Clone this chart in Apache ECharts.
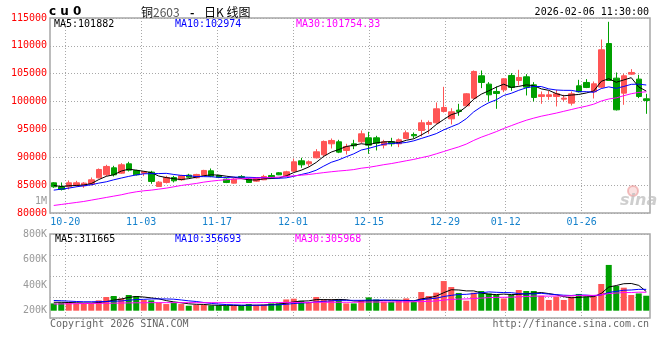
<!DOCTYPE html>
<html><head><meta charset="utf-8">
<script src="https://cdn.jsdelivr.net/npm/echarts@6.0.0/dist/echarts.min.js"></script>
<style>html,body{margin:0;padding:0;background:#fff;}#c{width:660px;height:360px;}</style>
</head><body><div id="c"></div>
<script>
// ---------- data ----------
const dates = ['10-16','10-17','10-20','10-21','10-22','10-23','10-24','10-27','10-28','10-29','10-30','10-31',
 '11-03','11-04','11-05','11-06','11-07','11-10','11-11','11-12','11-13','11-14','11-17','11-18','11-19','11-20','11-21','11-24','11-25','11-26','11-27','11-28',
 '12-01','12-02','12-03','12-04','12-05','12-08','12-09','12-10','12-11','12-12','12-15','12-16','12-17','12-18','12-19','12-22','12-23','12-24','12-25','12-26','12-29','12-30','12-31',
 '01-05','01-06','01-07','01-08','01-09','01-12','01-13','01-14','01-15','01-16','01-19','01-20','01-21','01-22','01-23','01-26','01-27','01-28','01-29','01-30',
 '02-02','02-03','02-04','02-05','02-06'];
const labelDates = ['10-20','11-03','11-17','12-01','12-15','12-29','01-12','01-26'];

const opens = [85420,84703,84703,84942,84882,85181,86318,86856,88113,87155,
 88830,87634,87155,87334,84762,85480,86377,85959,86796,86318,
 86796,87574,86736,86078,85360,86557,86078,85719,85959,86736,
 87215,86676,87514,89369,88830,89907,90446,92420,92779,91224,
 92420,92779,93497,93497,92181,92779,92420,93377,94095,94813,
 95890,96189,98224,96908,98463,99241,100617,104626,103130,101814,
 102113,104686,103788,104446,103010,100916,100916,100916,100438,99720,
 102830,103429,101754,102591,110423,104207,101514,104925,104027,100498];
const closes = [84703,84224,85420,85420,85360,85959,87813,88352,86856,88651,
 87694,86856,87394,85660,85540,86377,85779,86676,86437,86916,
 87634,86617,86377,85480,86078,86377,85480,86198,86557,86318,
 86856,87394,89189,88651,89189,90984,92838,93018,90924,91941,
 92061,94215,92181,92540,92779,92420,93138,94394,93856,96189,
 96249,98702,98942,98164,98224,101395,105404,103429,101215,101455,
 104087,102532,104327,102592,100737,101215,101215,101395,100617,101395,
 101754,102532,103190,109292,103782,98523,104626,105224,100916,100199];
const lows = [84523,84044,84224,84703,84523,84942,86198,86617,86557,87035,
 87454,86736,86617,85241,84703,85301,85480,85779,86318,86198,
 86676,86437,86258,85360,85301,86198,85420,85600,85899,86198,
 86796,86617,87394,88113,88352,89788,90147,91582,90745,90505,
 91463,92540,90625,91224,91582,91941,91822,93257,93377,93736,
 94215,96000,98044,95900,97450,99121,100498,102412,100019,98703,
 101694,101934,102891,101096,100019,99600,100318,99121,100019,99301,
 101634,102412,100558,102400,103700,98400,99420,104805,100617,97805];
const highs = [85540,85480,85839,85779,85540,86377,87993,88651,88472,88950,
 89189,87753,87454,87574,85719,86676,86676,86856,87035,87035,
 87753,87993,86856,86198,86258,86796,86318,86377,86856,87155,
 87334,87574,89788,89907,89429,91463,93018,93377,93138,92420,
 93138,94813,94574,93856,93138,93497,93377,94813,94454,96728,
 96608,99839,102651,98800,99600,101514,105583,105583,103489,102711,
 104207,105104,105703,104925,103489,101814,101934,102113,101215,101814,
 103907,104027,103608,111141,114318,105224,104985,105822,104805,101395];

const ma5 = [84942,84762,84882,84942,85025,85277,85994,86581,86868,87526,
 87873,87682,87490,87251,86629,86365,86150,86006,86162,86437,
 86688,86856,86796,86605,86437,86186,85958,85923,86138,86186,
 86282,86665,87263,87682,88256,89081,90170,90936,91391,91941,
 92156,92432,92264,92588,92755,92827,92612,93054,93317,93999,
 94765,95878,96788,97649,98056,99085,100426,101323,101933,102580,
 103118,102544,102723,102999,102855,102281,102017,101431,101036,101167,
 101275,101539,101898,103633,104110,103464,103883,104289,102614,101882];
const ma10 = [84104,84283,84463,84703,84882,85061,85360,85600,85959,86276,
 86575,86838,87036,87060,87078,87119,86916,86748,86706,86533,
 86527,86503,86401,86383,86437,86437,86407,86359,86371,86312,
 86234,86312,86593,86910,87221,87682,88417,89099,89536,90098,
 90619,91301,91600,91989,92348,92492,92522,92659,92953,93377,
 93796,94245,94921,95483,96028,96925,98152,99055,99791,100318,
 101102,101485,102023,102466,102717,102699,102280,102077,102017,102011,
 101778,101778,101664,102334,102639,102370,102711,103094,103123,102974];
const ma30 = [81352,81531,81711,81890,82070,82310,82549,82788,83027,83267,
 83566,83805,83985,84104,84283,84463,84703,84942,85121,85301,
 85540,85719,85860,85980,86080,86150,86210,86260,86320,86373,
 86445,86551,86677,86784,86912,87079,87247,87402,87538,87648,
 87793,88039,88198,88427,88669,88870,89115,89373,89620,89929,
 90216,90619,91038,91461,91866,92366,93030,93605,94093,94598,
 95172,95677,96181,96646,97031,97372,97651,97931,98254,98569,
 98892,99169,99536,100095,100461,100665,101048,101409,101644,101754];

// volumes in thousands of lots
const volumeK = [257,263,268,255,257,257,281,307,315,296,
 323,315,284,281,263,252,263,252,239,245,
 245,241,241,239,239,239,252,245,247,257,
 257,288,294,278,268,307,288,288,288,257,
 257,284,304,288,270,270,278,296,270,346,
 315,341,432,385,339,278,341,354,335,323,
 296,323,362,354,354,317,284,310,284,310,
 331,310,317,409,558,393,380,323,335,317];
const volMa5 = [266,266,264,262,260,260,264,271,283,291,
 304,311,307,300,293,279,269,262,254,250,
 249,244,242,242,241,240,242,243,244,248,
 252,259,269,275,277,287,287,286,288,286,
 276,275,278,278,281,283,282,280,277,292,
 301,314,341,364,362,355,355,339,329,326,
 330,326,328,332,338,342,334,324,310,301,
 304,309,310,335,385,397,411,413,398,350];
const volMa10 = [280,278,275,272,270,270,271,272,274,276,
 282,287,289,292,292,292,290,284,277,272,
 264,257,252,248,246,244,243,243,243,245,
 246,250,256,260,263,269,273,277,281,281,
 281,281,282,283,283,279,278,279,277,286,
 292,298,311,320,327,328,334,340,347,344,
 342,341,334,331,332,336,330,326,321,319,
 323,322,317,323,343,351,360,362,367,367];
const volMa30 = [252,253,254,255,256,257,258,258,259,260,
 261,262,262,263,263,263,263,263,263,263,
 263,263,263,263,263,263,263,263,264,264,
 264,265,265,265,265,266,266,266,266,266,
 266,267,268,268,268,268,269,269,270,271,
 273,276,283,288,291,292,295,299,302,304,
 305,306,309,311,314,314,314,315,315,317,
 319,320,320,324,334,338,342,342,345,344];

const priceAxis = {min: 80000, max: 115000, step: 5000};
const volAxis = {min: 200, max: 800, step: 200};

const headerPrice = ['MA5:101882', 'MA10:102974', 'MA30:101754.33'];
const headerVol = ['MA5:311665', 'MA10:356693', 'MA30:305968'];
const titleTime = '2026-02-06 11:30:00';

// ---------- chart ----------
const UP = '#ff5555', DOWN = '#00a000', BORDER = '#a6a6a6', DOT = '#a8a8a8';
const MONO = 'DejaVu Sans Mono';
const showDate = (i, v) => labelDates.indexOf(v) >= 0;
const dottedV = {show: true, interval: showDate, lineStyle: {color: DOT, width: 1, type: [1, 2]}};
const hiddenAxis = {show: false};

const chart = echarts.init(document.getElementById('c'), null, {renderer: 'canvas'});
const lineS = (name, data, color, xi, yi) => ({
  name, type: 'line', data, xAxisIndex: xi, yAxisIndex: yi, symbol: 'none', showSymbol: false,
  lineStyle: {color, width: 1}, itemStyle: {color}, silent: true, clip: true, z: 3
});
const txt = (text, x, y, fill, font, align) => ({
  type: 'text', x, y, silent: true, z: 100,
  style: {text, fill, font, align: align || 'left', verticalAlign: 'middle'}
});

chart.setOption({
  animation: false,
  backgroundColor: '#ffffff',
  grid: [
    {left: 50, top: 18, width: 600, height: 195, show: true, borderColor: BORDER, borderWidth: 1.5, outerBoundsMode: 'none'},
    {left: 50, top: 234, width: 600, height: 76.7, show: false, outerBoundsMode: 'none'},
    {left: 50, top: 234, width: 600, height: 84, show: true, borderColor: BORDER, borderWidth: 1.5, outerBoundsMode: 'none'}
  ],
  xAxis: [
    Object.assign({type: 'category', gridIndex: 0, data: dates, boundaryGap: true}, hiddenAxis),
    {type: 'category', gridIndex: 0, data: dates, boundaryGap: false, position: 'bottom',
     axisLine: {show: false}, axisTick: {show: false},
     axisLabel: {interval: showDate, color: '#1682cc', fontFamily: MONO, fontSize: 10, margin: 4},
     splitLine: dottedV},
    Object.assign({type: 'category', gridIndex: 1, data: dates, boundaryGap: true}, hiddenAxis),
    {type: 'category', gridIndex: 2, data: dates, boundaryGap: false,
     axisLine: {show: false}, axisTick: {show: false}, axisLabel: {show: false}, splitLine: dottedV}
  ],
  yAxis: [
    {type: 'value', gridIndex: 0, min: priceAxis.min, max: priceAxis.max, interval: priceAxis.step,
     axisLine: {show: false}, axisTick: {show: false},
     axisLabel: {color: '#ff0000', fontFamily: MONO, fontSize: 10, margin: 3, formatter: v => String(v)},
     splitLine: {show: true, lineStyle: {color: DOT, width: 1, type: [1, 2]}}},
    {type: 'value', gridIndex: 1, min: volAxis.min, max: volAxis.max, interval: volAxis.step,
     axisLine: {show: false}, axisTick: {show: false}, splitLine: {show: false},
     axisLabel: {color: '#999999', fontFamily: MONO, fontSize: 10, margin: 3, formatter: v => v + 'K'}},
    {type: 'value', gridIndex: 2, min: 0, max: 84, interval: 21,
     axisLine: {show: false}, axisTick: {show: false}, axisLabel: {show: false},
     splitLine: {show: true, lineStyle: {color: DOT, width: 1, type: [1, 2]}}}
  ],
  series: [
    {type: 'candlestick', xAxisIndex: 0, yAxisIndex: 0, barWidth: 6, silent: true,
     data: dates.map((d, i) => [opens[i], closes[i], lows[i], highs[i]]),
     itemStyle: {color: UP, color0: DOWN, borderColor: UP, borderColor0: DOWN, borderWidth: 1}, z: 2},
    lineS('MA5', ma5, '#000000', 0, 0),
    lineS('MA10', ma10, '#0000ff', 0, 0),
    lineS('MA30', ma30, '#ff00ff', 0, 0),
    {type: 'bar', xAxisIndex: 2, yAxisIndex: 1, barWidth: 6, clip: true, silent: true, z: 2,
     data: volumeK.map((v, i) => ({value: v, itemStyle: {color: closes[i] >= opens[i] ? UP : DOWN}}))},
    lineS('VMA5', volMa5, '#000000', 2, 1),
    lineS('VMA10', volMa10, '#0000ff', 2, 1),
    lineS('VMA30', volMa30, '#ff00ff', 2, 1)
  ],
  graphic: [
    txt('c u 0', 49, 12, '#000', 'bold 12px DejaVu Sans'),
    txt('铜', 141, 12, '#000', '12px "Noto Sans CJK SC"'),
    txt('2603', 153, 12, '#555', '12px "Noto Sans CJK SC"'),
    txt('-', 190, 12, '#000', 'bold 12px "Noto Sans CJK SC"'),
    txt('日K 线图', 204, 12, '#000', '12px "Noto Sans CJK SC"'),
    txt(titleTime, 649, 12, '#000', '10px ' + MONO, 'right'),
    txt(headerPrice[0], 54, 24, '#000000', '10px ' + MONO),
    txt(headerPrice[1], 175, 24, '#0000ff', '10px ' + MONO),
    txt(headerPrice[2], 296, 24, '#ff00ff', '10px ' + MONO),
    txt(headerVol[0], 55, 239, '#000000', '10px ' + MONO),
    txt(headerVol[1], 175, 239, '#0000ff', '10px ' + MONO),
    txt(headerVol[2], 295, 239, '#ff00ff', '10px ' + MONO),
    txt('1M', 47, 201, '#999999', '10px ' + MONO, 'right'),
    txt('Copyright 2026 SINA.COM', 50, 324, '#666666', '10px ' + MONO),
    txt('http://finance.sina.com.cn', 649, 324, '#666666', '10px ' + MONO, 'right'),
    {type: 'circle', shape: {cx: 633, cy: 191, r: 5}, silent: true, z: 1,
     style: {fill: 'rgba(240,170,170,0.35)', stroke: 'rgba(235,150,150,0.6)', lineWidth: 2}},
    txt('sina', 620, 201, 'rgba(190,190,190,0.75)', 'italic bold 16px DejaVu Sans')
  ]
});
</script></body></html>
